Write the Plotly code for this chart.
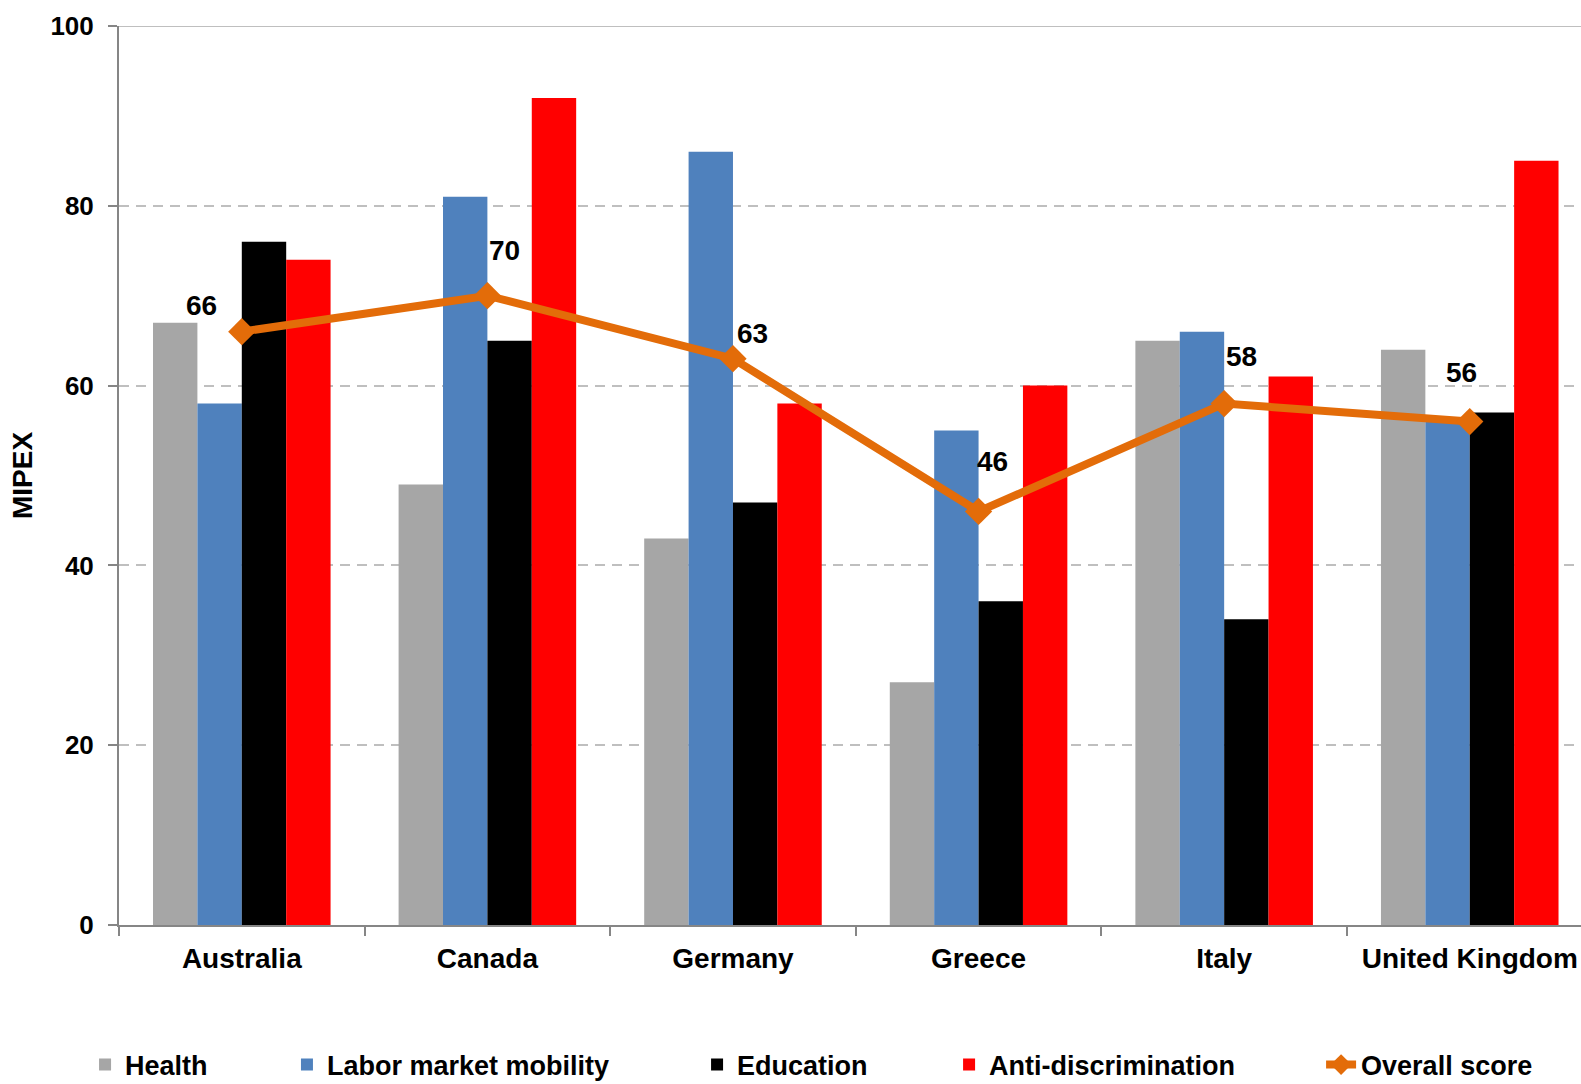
import plotly.graph_objects as go

countries = ["Australia", "Canada", "Germany", "Greece", "Italy", "United Kingdom"]
health = [67, 49, 43, 27, 65, 64]
labor = [58, 81, 86, 55, 66, 56]
education = [76, 65, 47, 36, 34, 57]
anti_disc = [74, 92, 58, 60, 61, 85]
overall = [66, 70, 63, 46, 58, 56]

# label offsets (pixels) for the overall score labels
label_dx = [-40, 17, 20, 14, 17, -8]
label_dy = [26, 45, 25, 50, 47, 49]

FONT = "Liberation Sans, Arial, sans-serif"
GRID = "#BFBFBF"
AXIS = "#868686"

fig = go.Figure()
series = [
    ("Health", health, "#A6A6A6", "legend"),
    ("Labor market mobility", labor, "#4F81BD", "legend2"),
    ("Education", education, "#000000", "legend3"),
    ("Anti-discrimination", anti_disc, "#FF0000", "legend4"),
]
for name, vals, col, lg in series:
    fig.add_trace(go.Bar(x=countries, y=vals, name=name, marker_color=col,
                         marker_line_width=0, legend=lg, showlegend=True))

fig.add_trace(go.Scatter(x=countries, y=overall, name="Overall score", mode="lines+markers",
                         line=dict(color="#E36C09", width=8),
                         marker=dict(symbol="diamond", size=21, color="#E36C09"),
                         legend="legend5", showlegend=True))

for c, v, dx, dy in zip(countries, overall, label_dx, label_dy):
    fig.add_annotation(x=c, y=v, text=str(v), showarrow=False,
                       xshift=dx, yshift=dy,
                       font=dict(size=28, color="black", family=FONT, weight="bold"))

fig.add_shape(type="line", xref="paper", yref="y", x0=0, x1=1, y0=100, y1=100,
              line=dict(color=GRID, width=2))

leg_common = dict(orientation="h", yanchor="middle", y=0.0175, yref="container",
                  xanchor="left", xref="container",
                  font=dict(size=27, family=FONT, color="black", weight="bold"),
                  bgcolor="rgba(0,0,0,0)", itemwidth=30)
leg_x = [0.0538, 0.1815, 0.4409, 0.6003, 0.8356]

fig.update_layout(
    width=1581, height=1084,
    showlegend=True,
    margin=dict(l=119, r=0, t=26, b=159, autoexpand=False),
    paper_bgcolor="white", plot_bgcolor="white",
    barmode="group", bargap=0.277, bargroupgap=0,
    font=dict(family=FONT, color="black"),
    legend=dict(x=leg_x[0], **leg_common),
    legend2=dict(x=leg_x[1], **leg_common),
    legend3=dict(x=leg_x[2], **leg_common),
    legend4=dict(x=leg_x[3], **leg_common),
    legend5=dict(x=leg_x[4], **leg_common),
    xaxis=dict(tickson="boundaries", ticks="outside", ticklen=9, tickcolor=AXIS, tickwidth=2,
               range=[-0.5, 5.453],
               showline=True, linecolor=AXIS, linewidth=2, showgrid=False,
               tickfont=dict(size=28, family=FONT, color="black", weight="bold"),
               ticklabelstandoff=7),
    yaxis=dict(range=[0, 100], tickvals=[0, 20, 40, 60, 80, 100], ticks="outside", ticklen=9,
               tickcolor=AXIS, tickwidth=2, showline=True, linecolor=AXIS, linewidth=2,
               showgrid=True, gridcolor=GRID, griddash="10px,7px", gridwidth=2, zeroline=False,
               tickfont=dict(size=26, family=FONT, color="black", weight="bold"),
               ticklabelstandoff=9,
               title=dict(text="MIPEX",
                          font=dict(size=28, family=FONT, color="black", weight="bold"),
                          standoff=10)),
)

fig.write_html("out.html")
